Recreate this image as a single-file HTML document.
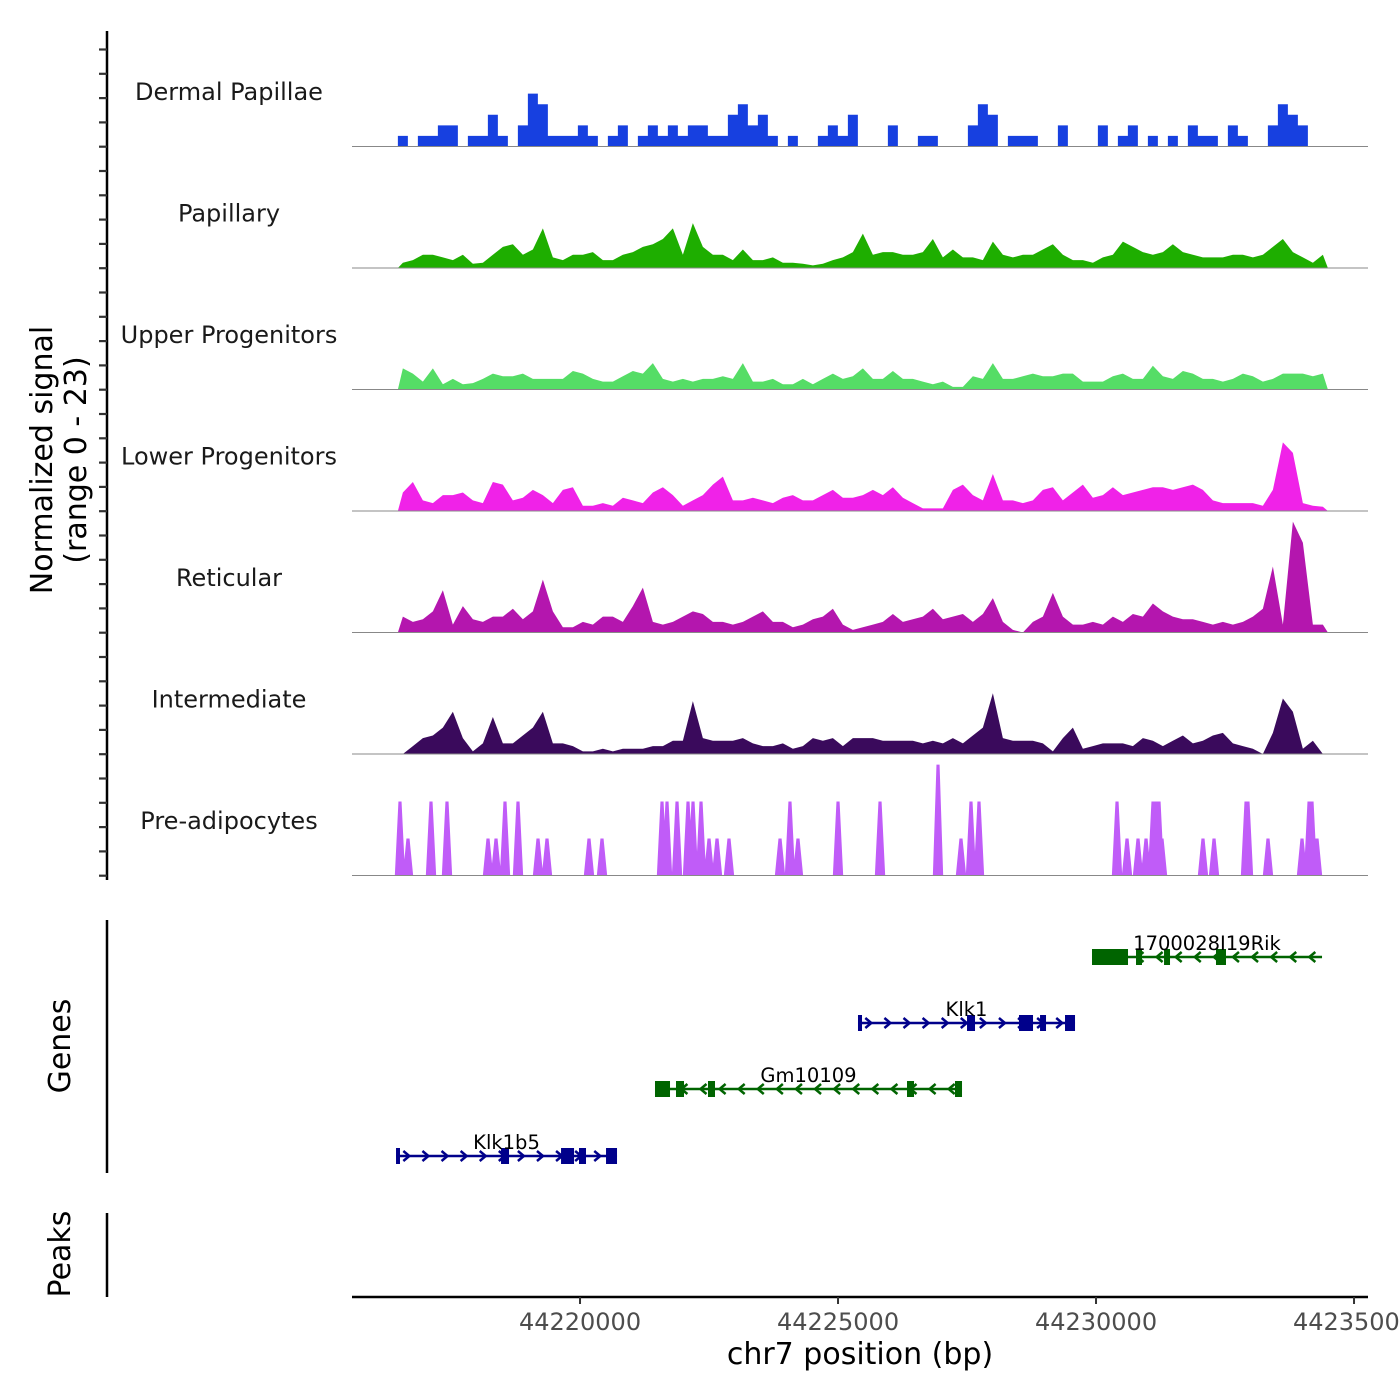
<!DOCTYPE html>
<html><head><meta charset="utf-8"><style>
html,body{margin:0;padding:0;background:#fff}
svg{display:block;font-family:"DejaVu Sans","Liberation Sans",sans-serif}
</style></head><body>
<svg id="chart" width="1400" height="1400" viewBox="0 0 1400 1400" xmlns="http://www.w3.org/2000/svg">
<rect x="0" y="0" width="1400" height="1400" fill="#fff"/>
<g id="signal"></g>
<g id="genes"></g>
<g id="axes"></g>
<text transform="translate(52,460) rotate(-90)" text-anchor="middle" font-size="30" fill="#000">Normalized signal</text>
<text transform="translate(86,460) rotate(-90)" text-anchor="middle" font-size="30" fill="#000">(range 0 - 23)</text>
<text transform="translate(70,1046) rotate(-90)" text-anchor="middle" font-size="30" fill="#000">Genes</text>
<text transform="translate(70,1254) rotate(-90)" text-anchor="middle" font-size="30" fill="#000">Peaks</text>
<text x="860" y="1364" text-anchor="middle" font-size="30" fill="#000">chr7 position (bp)</text>
</svg>
<script>
const trackNames = ["Dermal Papillae","Papillary","Upper Progenitors","Lower Progenitors","Reticular","Intermediate","Pre-adipocytes"];
const trackColors = ["#1740E0","#1EAE00","#55DD66","#F022E8","#B416AE","#3A0A5C","#C05CF8"];
const binStart = 44216470;
const binSize = 193.8;
const dermalPapillae = [2,0,2,2,4,4,0,2,2,6,2,0,4,10,8,2,2,2,4,2,0,2,4,0,2,4,2,4,2,4,4,2,2,6,8,4,6,2,0,2,0,0,2,4,2,6,0,0,0,4,0,0,2,2,0,0,0,4,8,6,0,2,2,2,0,0,4,0,0,0,4,0,2,4,0,2,0,2,0,4,2,2,0,4,2,0,0,4,8,6,4,0,0];
const papillary = [1,1.5,2.5,2.5,2,1.5,2.5,0.8,1,2.5,4,4.5,2.5,3.5,7.5,2,1.5,2.5,2.5,3,1.5,1.5,2.5,3,4,4.5,5.5,7.5,2.5,8.5,4,2.5,2.5,1.5,3.5,1.5,1.5,2,1,1,0.8,0.5,0.8,1.5,2,3,6.5,2.5,3,3,2.5,2.5,3,5.5,2,3.5,2,2,1.5,5,2.5,2,2.5,2.5,3.5,4.5,2.5,1.5,1.5,1,2,2.5,5,4,3,2.5,3,4.5,3,2.5,2,2,2,2.5,2.5,2,2.5,4,5.5,3,2,1,2.5];
const upperProgenitors = [4,3,1.5,4,1,2,1,1.2,2,3,2.5,2.5,3,2,2,2,2,3.5,3,2,1.5,1.5,2.5,3.5,3,5,2,1.5,2,1.5,2,2,2.5,2,5,1.5,1.5,2,1,1,2,1,2,3,2,2.5,4,2,2,3.5,2,2,1.5,1,1.5,0.5,0.5,2.5,2,5,2,2,2.5,3,2.5,2.5,3,3,1.5,1.5,1.5,2.5,3,2,2,4.5,2.5,2,3.5,3,2,2,1.5,2,3,2.5,1.5,2,3,3,3,2.5,3];
const lowerProgenitors = [3.5,5.5,2,1.5,3,3,3.5,2,1.5,5.5,5,2,2.5,4,3,1.5,4,4.5,1,1,1.5,1,2.5,2,1.5,3.5,4.5,3,1,2,3,5,6.5,2,2,2.5,2,1.5,2.5,3,2,2,3,4,2.5,2.5,3,4,3,4.5,2.5,1.5,0.5,0.5,0.5,4,5,3,2,7,2,2,1.5,2,4,4.5,2,3.5,5,2.5,3,4.5,3,3.5,4,4.5,4.5,4,4.5,5,4,2,1.5,1.5,1.5,1.5,1,4,13,11,1.5,1,0.8];
const reticular = [3,2,2.5,4,8,1.5,5,2.5,2,3,3,4.5,2.5,4,10,4,1,1,2,1.5,3,3,2,5,8.5,2,1.5,2,3,4,3.5,2,2,1.5,2,3,4,2,2,1,1.5,2.5,3,4.5,1.5,0.5,1,1.5,2,3.5,2,2.5,3,4.5,2.5,3,3.5,2,3.5,6.5,2,0.5,0,2,3,7.5,3,1.5,1.5,2,1.5,3,2,3.5,3,5.5,4,3,2.5,2.5,2,1.5,2,1.5,2,3,4.5,12.5,1.5,21,17,1.5,1.5];
const intermediate = [0,1.5,3,3.5,5,8,3,0.5,2,7,2,2,3.5,5,8,2,2,1.5,0.5,0.5,1,0.5,1,1,1,1.5,1.5,2.5,2.5,10,3,2.5,2.5,2.5,3,2,1.5,1.5,2,1,1.5,3,2.5,3,1.5,3,3,3,2.5,2.5,2.5,2.5,2,2.5,2,3,2,3.5,5,11.5,3,2.5,2.5,2.5,2,0.5,3,5,1,1.5,2,2,2,1.5,3,2.5,1.5,2.5,3.5,2,2.5,3.5,4,2,1.5,1,0,4,10.5,8,1,2.5,0];
const preadPositions = [44216511,44216666,44217112,44217422,44218217,44218372,44218546,44218798,44219186,44219360,44220174,44220426,44221589,44221686,44221880,44222093,44222190,44222345,44222500,44222655,44222887,44223876,44224069,44224224,44225000,44225814,44226938,44227383,44227577,44227732,44230407,44230601,44230814,44230969,44231104,44231163,44231221,44231279,44232073,44232287,44232907,44232945,44233333,44233992,44234128,44234186,44234283];
const preadValues = [14,7,14,14,7,7,14,14,7,7,7,7,14,14,14,14,14,14,7,7,7,7,14,7,14,14,21,7,14,14,14,7,7,7,14,14,14,7,7,7,14,14,7,7,14,14,7];
const binnedTracks = [dermalPapillae,papillary,upperProgenitors,lowerProgenitors,reticular,intermediate];
const xTickValues = [44220000,44225000,44230000,44235000];
const xTickLabels = ["44220000","44225000","44230000","44235000"];
const geneNames = ["1700028I19Rik","Klk1","Gm10109","Klk1b5"];
const geneStrands = ["-","+","-","+"];
const geneStarts = [44229922,44225387,44221453,44216434];
const geneEnds = [44234380,44229593,44227403,44220717];
const geneExons = [
  [[44229922,44230620],[44230775,44230891],[44231318,44231434],[44232325,44232519]],
  [[44225387,44225465],[44227500,44227655],[44228507,44228779],[44228915,44229031],[44229399,44229593]],
  [[44221453,44221744],[44221860,44222015],[44222480,44222616],[44226337,44226473],[44227267,44227403]],
  [[44216434,44216511],[44218469,44218624],[44219632,44219884],[44219980,44220116],[44220504,44220717]]
];
const geneColors = ["#006400","#00008B","#006400","#00008B"];

const NS="http://www.w3.org/2000/svg";
const X0=352, X1=1368, BP0=44215581, PXPERBP=258/5000;
function xScale(bp){return X0+(bp-BP0)*PXPERBP;}
const TRACK_H=121.5, TOP=25, YMAX=23;
function baseline(k){return TOP+TRACK_H*(k+1);}
function yScale(v,k){return baseline(k)-v/YMAX*TRACK_H;}
function mk(tag,attrs,parent){const e=document.createElementNS(NS,tag);for(const a in attrs)e.setAttribute(a,attrs[a]);parent.appendChild(e);return e;}
const sig=document.getElementById('signal');
const genesG=document.getElementById('genes');
const axes=document.getElementById('axes');

for(let k=0;k<7;k++){
  const b=baseline(k);
  const lab=mk('text',{x:229,y:TOP+TRACK_H*k+75,'text-anchor':'middle','font-size':'24',fill:'#1a1a1a'},sig);
  lab.textContent=trackNames[k];
  
  
  let d='';
  if(k<6){
    const vals=binnedTracks[k];
    if(k===0){
      d='M'+xScale(binStart)+','+b;
      for(let i=0;i<vals.length;i++){
        const xa=xScale(binStart+i*binSize), xb=xScale(binStart+(i+1)*binSize), y=yScale(vals[i],k);
        d+=' L'+xa+','+y+' L'+xb+','+y;
      }
      d+=' L'+xScale(binStart+vals.length*binSize)+','+b+' Z';
    } else {
      d='M'+xScale(binStart)+','+b;
      for(let i=0;i<vals.length;i++){
        const xc=xScale(binStart+(i+0.5)*binSize);
        d+=' L'+xc+','+yScale(vals[i],k);
      }
      d+=' L'+xScale(binStart+vals.length*binSize)+','+b+' Z';
    }
  } else {
    for(let i=0;i<preadPositions.length;i++){
      const p=preadPositions[i], y=yScale(preadValues[i],k);
      d+='M'+xScale(p-100)+','+b+' L'+xScale(p-30)+','+y+' L'+xScale(p+30)+','+y+' L'+xScale(p+100)+','+b+' Z ';
    }
  }
  const area=mk('path',{d:d,fill:trackColors[k]},sig);
  
  
  const bl=mk('line',{x1:X0,x2:X1,y1:b,y2:b,stroke:'#888',"stroke-width":1},sig);
  
  
}

const geneY=[957,1023,1089,1156];
for(let g=0;g<geneNames.length;g++){
  const y=geneY[g], c=geneColors[g];
  const grp=mk('g',{},genesG);
  
  
  const xs=xScale(geneStarts[g]), xe=xScale(geneEnds[g]);
  mk('line',{x1:xs,x2:xe,y1:y,y2:y,stroke:c,'stroke-width':2.5},grp);
  const step=370;
  for(let p=geneStarts[g]+200;p<geneEnds[g]-100;p+=step){
    const x=xScale(p);
    const dir=geneStrands[g]==='+'?1:-1;
    mk('path',{d:'M'+(x-3*dir)+','+(y-5)+' L'+(x+3*dir)+','+y+' L'+(x-3*dir)+','+(y+5),fill:'none',stroke:c,'stroke-width':2.5},grp);
  }
  for(const ex of geneExons[g]){
    const a=xScale(ex[0]), bb=xScale(ex[1]);
    mk('rect',{x:a,y:y-8,width:Math.max(bb-a,3),height:16,fill:c},grp);
  }
  const tl=mk('text',{x:(xs+xe)/2,y:y-7,'text-anchor':'middle','font-size':'19.5',fill:'#000'},grp);
  tl.textContent=geneNames[g];
  
  
}

const la=mk('line',{x1:107,x2:107,y1:31,y2:880,stroke:'#000','stroke-width':2.5},axes);


for(let k=0;k<35;k++){
  const y=49.5+24.3*k;
  const t=mk('line',{x1:99,x2:107,y1:y,y2:y,stroke:'#333','stroke-width':2.2},axes);
  
  
}
const ga=mk('line',{x1:107,x2:107,y1:920,y2:1173,stroke:'#000','stroke-width':2.5},axes);


const pa=mk('line',{x1:107,x2:107,y1:1213,y2:1297,stroke:'#000','stroke-width':2.5},axes);


const xa=mk('line',{x1:X0,x2:X1,y1:1297,y2:1297,stroke:'#000','stroke-width':2.5},axes);


for(let i=0;i<xTickValues.length;i++){
  const x=xScale(xTickValues[i]);
  const t=mk('line',{x1:x,x2:x,y1:1297,y2:1304,stroke:'#333','stroke-width':2},axes);
  
  
  const tl=mk('text',{x:x,y:1330,'text-anchor':'middle','font-size':'24',fill:'#4d4d4d'},axes);
  tl.textContent=xTickLabels[i];
  
  
}
</script>
</body></html>
